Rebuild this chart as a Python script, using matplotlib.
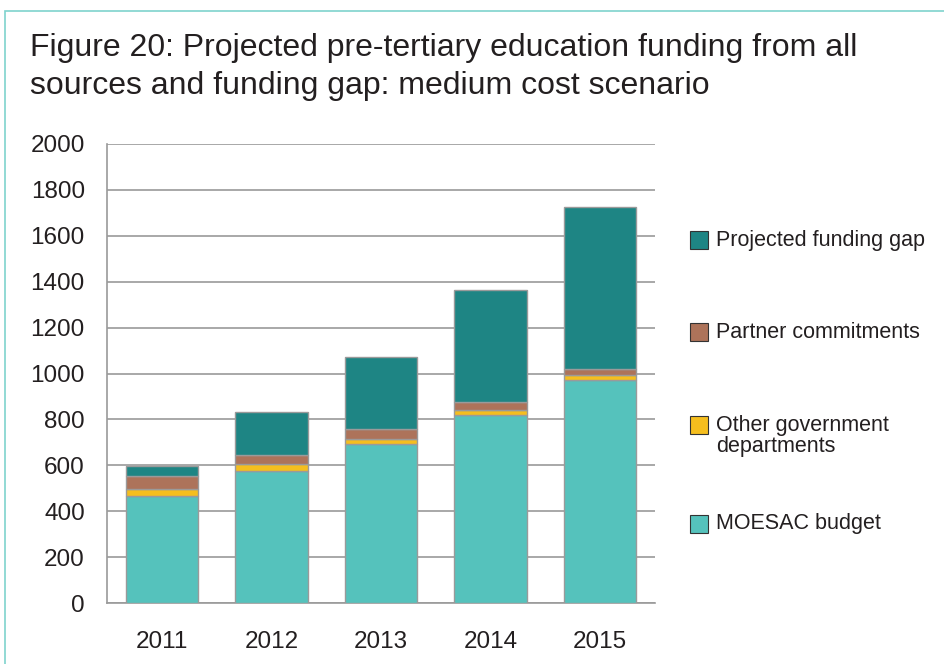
import matplotlib.pyplot as plt
from matplotlib.patches import Rectangle
import numpy as np

plt.rcParams['font.family'] = ['Liberation Sans', 'DejaVu Sans']

years = ['2011', '2012', '2013', '2014', '2015']
moesac = [466, 575, 691, 818, 973]
other_gov = [32, 31, 25, 22, 22]
partner = [55, 37, 44, 36, 25]
gap = [45, 189, 312, 488, 705]

series = [
    ('MOESAC budget', moesac, '#55c2bc'),
    ('Other government\ndepartments', other_gov, '#f5be1e'),
    ('Partner commitments', partner, '#ad735a'),
    ('Projected funding gap', gap, '#1e8584'),
]

W, H = 945, 664
fig = plt.figure(figsize=(W / 100, H / 100), dpi=100)

# outer frame of the figure box
fig.patches.append(Rectangle((5 / W, -0.05), 1.2, 1 - 11 / H + 0.05,
                             transform=fig.transFigure, fill=False,
                             edgecolor='#7fd3cd', linewidth=1.2))

fig.text(30 / W, 1 - 67 / H, 'Figure 20: Projected pre-tertiary education funding from all\n'
         'sources and funding gap: medium cost scenario',
         fontsize=23, color='#231f20', va='center', ha='left', linespacing=1.32)

ax = fig.add_axes([107 / W, 1 - 603 / H, (655 - 107) / W, (603 - 144) / H])

x = np.arange(len(years))
bottom = np.zeros(len(years))
for label, vals, color in series:
    ax.bar(x, vals, 0.66, bottom=bottom, color=color, edgecolor='#9a9a9a',
           linewidth=1, zorder=3)
    bottom += np.array(vals)

ax.set_xlim(-0.5, len(years) - 0.5)
ax.set_ylim(0, 2000)
ax.set_yticks(range(0, 2001, 200))
ax.set_xticks(x)
ax.set_xticklabels(years)
ax.tick_params(axis='both', length=0, labelsize=17.5, colors='#231f20')
ax.tick_params(axis='y', pad=16)
ax.tick_params(axis='x', pad=20)
ax.grid(axis='y', color='#9a9a9a', linewidth=1.2, zorder=0)
for s in ['top', 'right']:
    ax.spines[s].set_visible(False)
for s in ['left', 'bottom']:
    ax.spines[s].set_color('#9a9a9a')
    ax.spines[s].set_linewidth(1.2)

# legend drawn by hand, top to bottom
legend_y = [240, 332, 436, 524]
for (label, vals, color), ly in zip(series[::-1], legend_y):
    box_y = ly if '\n' not in label else 425
    fig.patches.append(Rectangle((690 / W, 1 - (box_y + 9) / H), 18 / W, 18 / H,
                                 transform=fig.transFigure, facecolor=color,
                                 edgecolor='#333333', linewidth=0.8))
    fig.text(716 / W, 1 - ly / H, label, fontsize=15.5, color='#231f20',
             va='center', ha='left', linespacing=0.95)

fig.savefig('out.png', dpi=100)
